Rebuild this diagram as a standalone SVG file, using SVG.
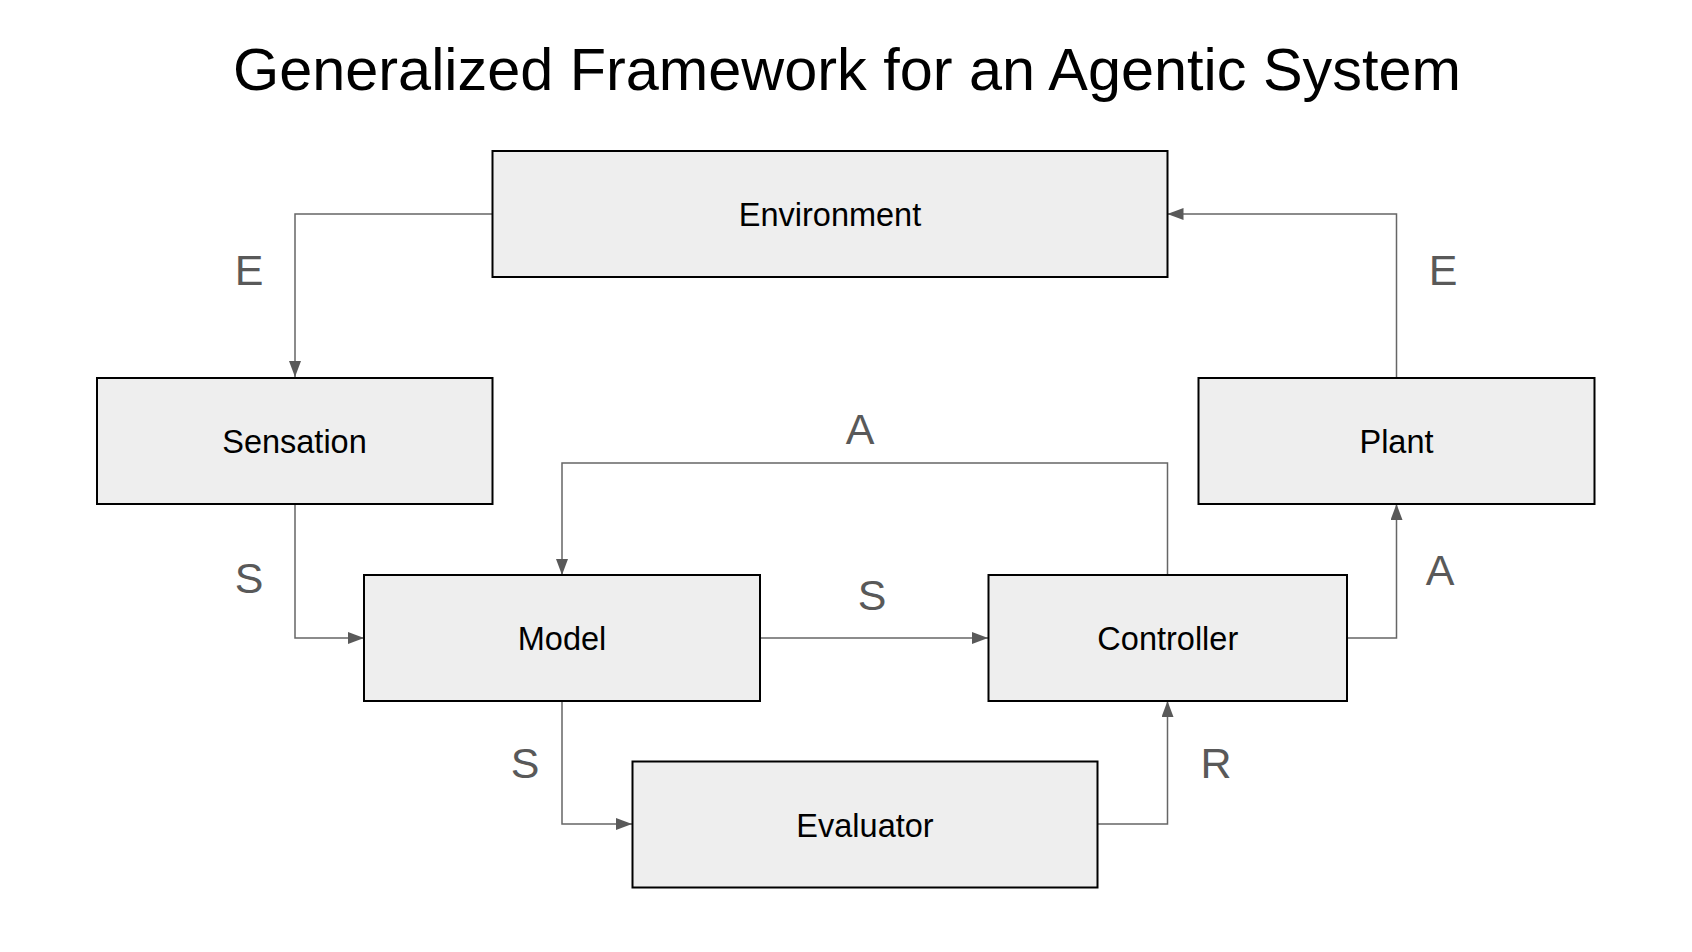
<svg xmlns="http://www.w3.org/2000/svg" width="1692" height="952" viewBox="0 0 1692 952">
<style>
.box{fill:#eeeeee;stroke:#000000;stroke-width:2}
.lbl{font-family:"Liberation Sans",Arial,sans-serif;font-size:32.5px;fill:#000000;text-anchor:middle}
.edge{fill:none;stroke:#666666;stroke-width:1.5}
.elbl{font-family:"Liberation Sans",Arial,sans-serif;font-size:43px;fill:#595959;text-anchor:middle}
.title{font-family:"Liberation Sans",Arial,sans-serif;font-size:59.4px;fill:#000000;text-anchor:middle}
</style>
<defs>
<marker id="arrow" markerUnits="userSpaceOnUse" markerWidth="16" markerHeight="12" refX="16" refY="6" orient="auto" viewBox="0 0 16 12">
<path d="M0,0 L16,6 L0,12 z" fill="#595959"/>
</marker>
</defs>
<rect width="1692" height="952" fill="#ffffff"/>
<text class="title" x="847" y="90">Generalized Framework for an Agentic System</text>
<g id="connectors">
<path class="edge" d="M492,214 H295 V377" marker-end="url(#arrow)"/>
<path class="edge" d="M295,504 V638 H364" marker-end="url(#arrow)"/>
<path class="edge" d="M760,638 H988" marker-end="url(#arrow)"/>
<path class="edge" d="M1167.5,575 V463 H562 V575" marker-end="url(#arrow)"/>
<path class="edge" d="M562,701 V824 H632" marker-end="url(#arrow)"/>
<path class="edge" d="M1097.5,824 H1167.5 V701" marker-end="url(#arrow)"/>
<path class="edge" d="M1347,638 H1396.5 V504" marker-end="url(#arrow)"/>
<path class="edge" d="M1396.5,378 V214 H1167.5" marker-end="url(#arrow)"/>
<text class="elbl" x="249" y="285">E</text>
<text class="elbl" x="1443" y="285">E</text>
<text class="elbl" x="860" y="444">A</text>
<text class="elbl" x="249" y="593">S</text>
<text class="elbl" x="872" y="610">S</text>
<text class="elbl" x="1440" y="585">A</text>
<text class="elbl" x="525" y="778">S</text>
<text class="elbl" x="1216" y="778">R</text>
</g>
<g id="environment">
<rect class="box" x="492.5" y="151" width="675" height="126"/>
<text class="lbl" x="830" y="225.5">Environment</text>
</g>
<g id="sensation">
<rect class="box" x="97" y="378" width="395.5" height="126"/>
<text class="lbl" x="294.5" y="452.5">Sensation</text>
</g>
<g id="plant">
<rect class="box" x="1198.5" y="378" width="396" height="126"/>
<text class="lbl" x="1396.5" y="452.5">Plant</text>
</g>
<g id="model">
<rect class="box" x="364" y="575" width="396" height="126"/>
<text class="lbl" x="562" y="650">Model</text>
</g>
<g id="controller">
<rect class="box" x="988.5" y="575" width="358.5" height="126"/>
<text class="lbl" x="1167.8" y="650">Controller</text>
</g>
<g id="evaluator">
<rect class="box" x="632.5" y="761.5" width="465" height="126"/>
<text class="lbl" x="865" y="836.5">Evaluator</text>
</g>
</svg>
